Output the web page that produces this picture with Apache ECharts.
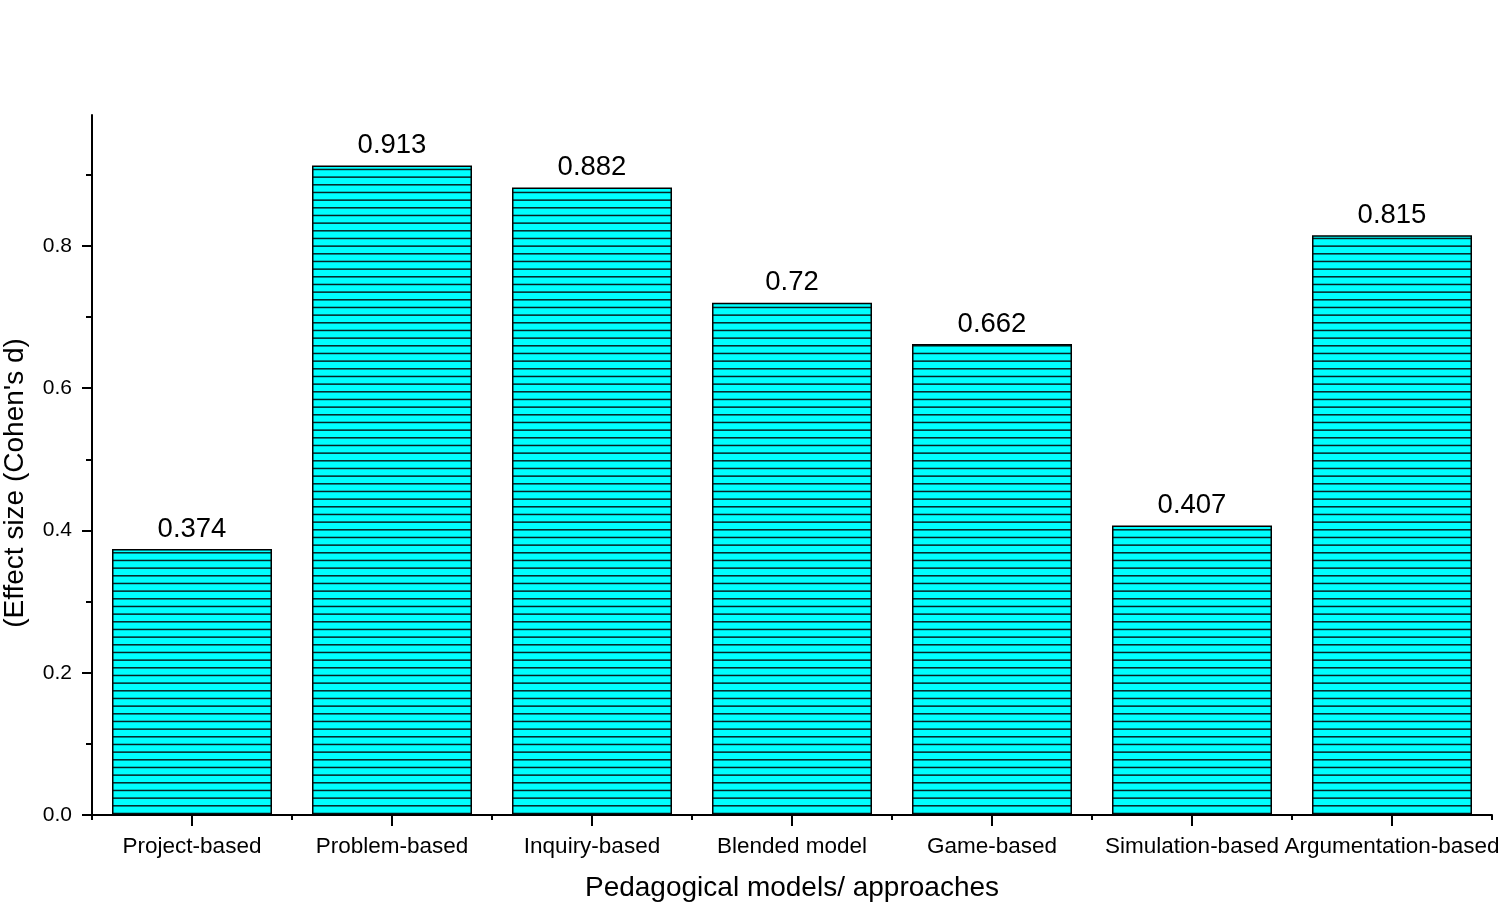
<!DOCTYPE html>
<html>
<head>
<meta charset="utf-8">
<script src="https://cdn.jsdelivr.net/npm/echarts@6/dist/echarts.min.js"></script>
<style>html,body{margin:0;padding:0;background:#fff}#c{width:1500px;height:906px}</style>
</head>
<body>
<div id="c"></div>
<script>
const categories = ['Project-based','Problem-based','Inquiry-based','Blended model','Game-based','Simulation-based','Argumentation-based'];
const effectSizes = [0.374, 0.913, 0.882, 0.72, 0.662, 0.407, 0.815];
const yMajorTicks = [0, 0.2, 0.4, 0.6, 0.8];
const yMinorTicks = [0.1, 0.3, 0.5, 0.7, 0.9];

const FONT = '"Liberation Sans", Arial, sans-serif';
const YMAX = 0.984;

// hatch pattern: cyan with horizontal dark lines every ~7.67px
const pc = document.createElement('canvas');
pc.width = 12; pc.height = 23;
const ctx = pc.getContext('2d');
ctx.fillStyle = '#00FFFF';
ctx.fillRect(0, 0, 12, 23);
ctx.strokeStyle = '#062424';
ctx.lineWidth = 1.5;
for (let k = 0; k < 3; k++) {
  const y = k * 23 / 3 + 0.8;
  ctx.beginPath(); ctx.moveTo(0, y); ctx.lineTo(12, y); ctx.stroke();
}

const chart = echarts.init(document.getElementById('c'));
chart.setOption({
  backgroundColor: '#fff',
  animation: false,
  grid: { left: 92, right: 8, top: 115, bottom: 91, containLabel: false, outerBoundsMode: 'none' },
  xAxis: [{
    type: 'category',
    data: categories,
    position: 'bottom',
    axisLine: { lineStyle: { color: '#000', width: 2 } },
    axisTick: { show: true, alignWithLabel: false, length: 5, lineStyle: { color: '#000', width: 2 } },
    axisLabel: { fontSize: 22.5, color: '#000', fontFamily: FONT, margin: 20, interval: 0 },
    name: 'Pedagogical models/ approaches',
    nameLocation: 'middle',
    nameGap: 59,
    nameTextStyle: { fontSize: 28, color: '#000', fontFamily: FONT }
  }, {
    type: 'category',
    data: categories,
    position: 'bottom',
    axisLine: { show: false },
    axisTick: { show: true, alignWithLabel: true, length: 11, lineStyle: { color: '#000', width: 2 } },
    axisLabel: { show: false }
  }],
  yAxis: [{
    type: 'value',
    min: 0, max: YMAX,
    position: 'left',
    splitLine: { show: false },
    axisLine: { show: true, lineStyle: { color: '#000', width: 2 } },
    axisTick: { show: true, customValues: yMajorTicks, length: 10, lineStyle: { color: '#000', width: 2 } },
    axisLabel: { customValues: yMajorTicks, fontSize: 21, color: '#000', fontFamily: FONT, margin: 20,
      formatter: v => v.toFixed(1) },
    name: "(Effect size (Cohen's d)",
    nameLocation: 'middle',
    nameGap: 63,
    nameTextStyle: { fontSize: 28, color: '#000', fontFamily: FONT, padding: [0, 36, 0, 0] }
  }, {
    type: 'value',
    min: 0, max: YMAX,
    position: 'left',
    splitLine: { show: false },
    axisLine: { show: false },
    axisTick: { show: true, customValues: yMinorTicks, length: 6, lineStyle: { color: '#000', width: 2 } },
    axisLabel: { show: false }
  }],
  series: [{
    type: 'bar',
    data: effectSizes,
    xAxisIndex: 0,
    yAxisIndex: 0,
    barCategoryGap: '20%',
    itemStyle: { color: { image: pc, repeat: 'repeat' }, borderColor: '#000', borderWidth: 1.5 },
    label: { show: true, position: 'top', distance: 6, fontSize: 27.5, color: '#000', fontFamily: FONT }
  }]
});
</script>
</body>
</html>
